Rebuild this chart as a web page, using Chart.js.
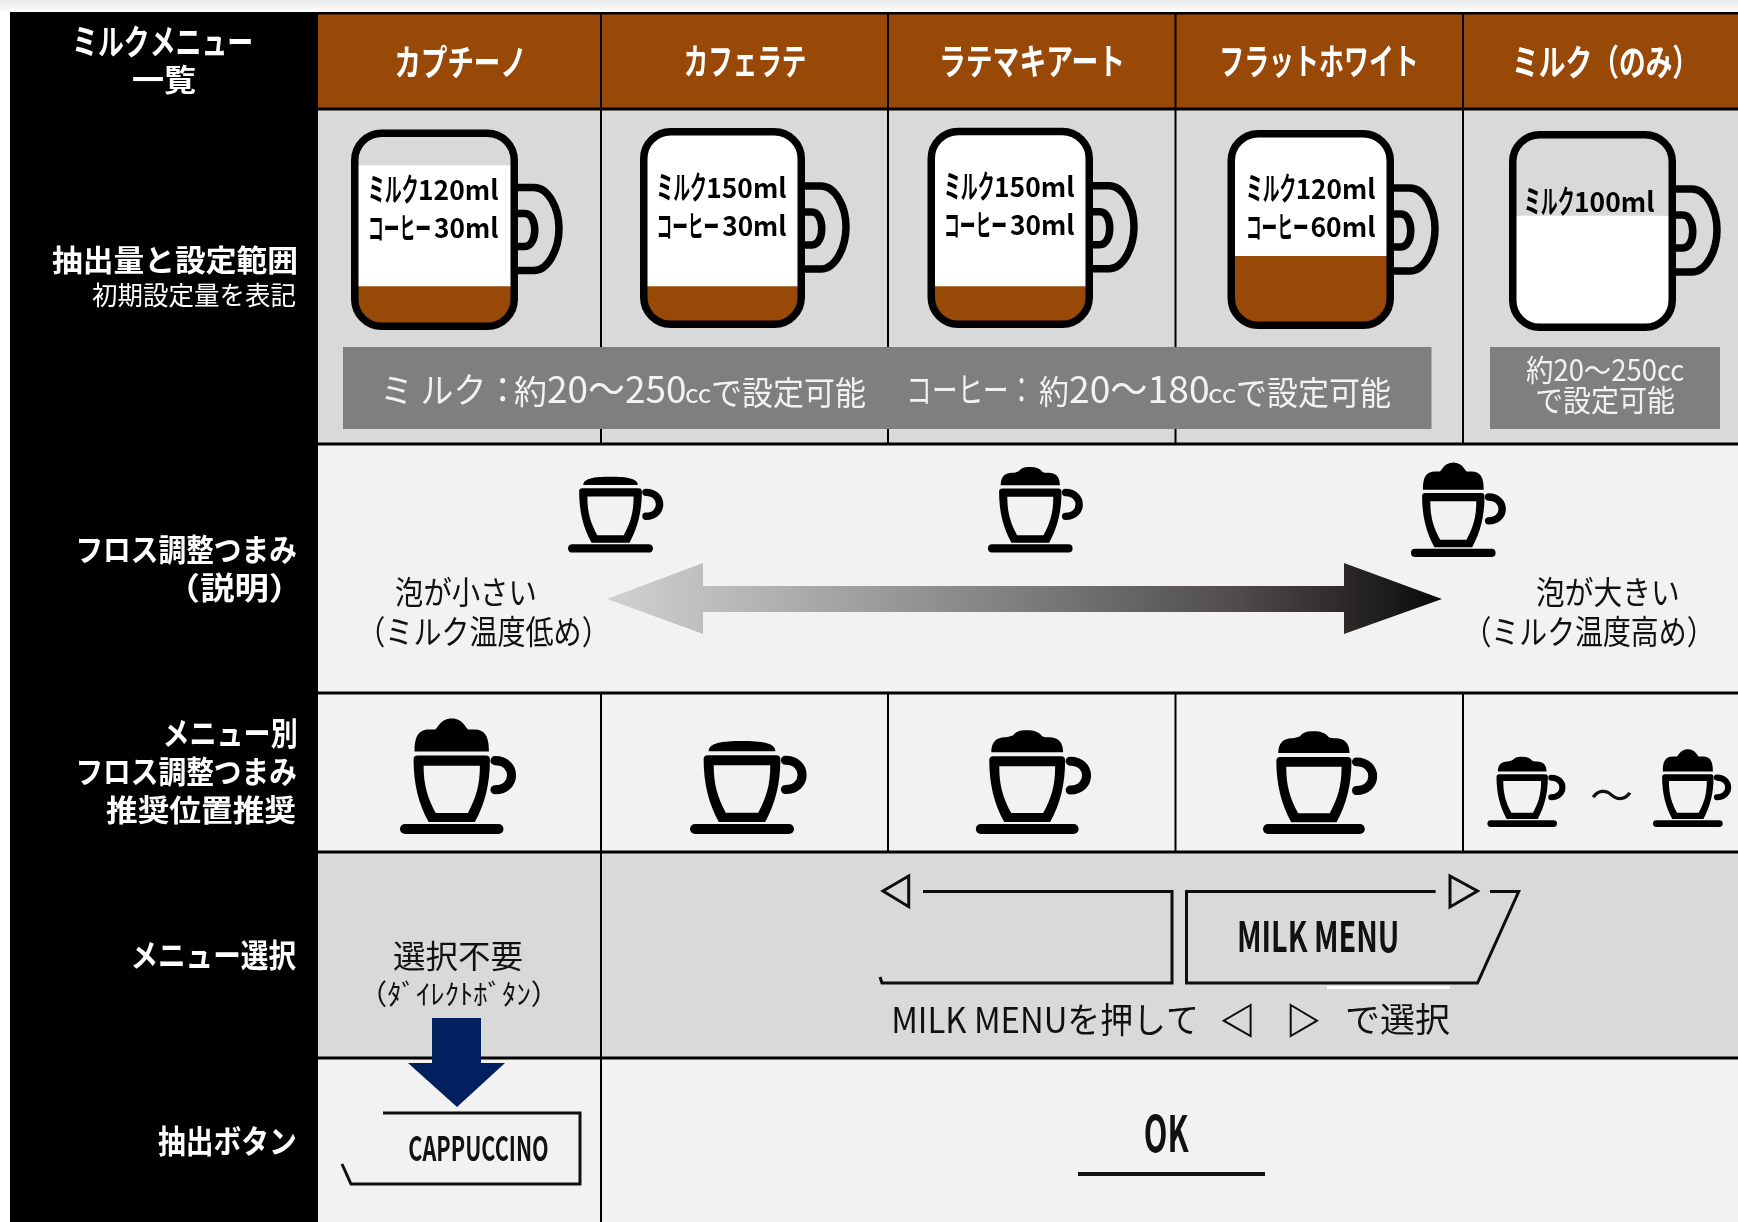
<!DOCTYPE html>
<html lang="ja">
<head>
<meta charset="utf-8">
<title>ミルクメニュー一覧</title>
<script src="https://cdn.jsdelivr.net/npm/chart.js@4"></script>
<style>html,body{margin:0;padding:0;background:#fff}canvas{display:block}</style>
</head>
<body>
<canvas id="c" width="1738" height="1222"></canvas>
<script>
const menuNames = ['カプチーノ','カフェラテ','ラテマキアート','フラットホワイト','ミルク（のみ）'];
const milkMl = [120,150,150,120,100];
const coffeeMl = [30,30,30,60,null];
const milkRange = [20,250];
const coffeeRange = [20,180];
const frothScale = [0,1,2];
const frothByMenu = [2,0,1,1];
const frothMilkOnly = [1,2];

const FONT = '"Noto Sans CJK JP","Noto Sans",sans-serif';
const BROWN = '#984807';

function fit(ctx, text, l, r, y, size, o) {
  o = o || {};
  ctx.save();
  ctx.font = (o.w || 400) + ' ' + size + 'px ' + FONT;
  ctx.fillStyle = o.c || '#000';
  ctx.textAlign = 'left';
  ctx.textBaseline = 'alphabetic';
  const m = ctx.measureText(text);
  const ink = m.actualBoundingBoxLeft + m.actualBoundingBoxRight;
  const sx = (r - l) / ink;
  const base = o.base ? y : y + (m.actualBoundingBoxAscent - m.actualBoundingBoxDescent) / 2;
  ctx.translate(l, base);
  ctx.scale(sx, 1);
  ctx.fillText(text, m.actualBoundingBoxLeft, 0);
  ctx.restore();
}
function poly(ctx, pts, close) {
  ctx.beginPath();
  pts.forEach((p, i) => i ? ctx.lineTo(p[0], p[1]) : ctx.moveTo(p[0], p[1]));
  if (close) ctx.closePath();
}
// mug outer boxes [left, top, right, bottom]
const mugBox = [[351,129.5,518,330],[640,128,805,328],[927.5,127.7,1093,328],[1227.5,130,1394,329],[1509,131,1676,331]];
function mugPath(ctx, b) {
  ctx.roundRect(b[0]+3.75, b[1]+3.75, b[2]-b[0]-7.5, b[3]-b[1]-7.5, 27);
}
function drawMug(ctx, b) {
  const R = b[2], T = b[1];
  ctx.save();
  ctx.strokeStyle = '#000'; ctx.lineWidth = 7.5;
  ctx.beginPath(); mugPath(ctx, b); ctx.stroke();
  ctx.beginPath();
  ctx.moveTo(R-1,T+58); ctx.lineTo(R+16,T+58);
  ctx.bezierCurveTo(R+30,T+58,R+41,T+78,R+41,T+99);
  ctx.bezierCurveTo(R+41,T+120,R+30,T+141,R+16,T+141);
  ctx.lineTo(R-1,T+141);
  ctx.moveTo(R-1,T+84); ctx.lineTo(R+7,T+84);
  ctx.bezierCurveTo(R+20,T+84,R+20,T+117,R+7,T+117);
  ctx.lineTo(R-1,T+117);
  ctx.stroke();
  ctx.restore();
}
function drawCup(ctx, l, r, bottom, level) {
  const cx = (l + r) / 2, s = (r - l) / 103;
  ctx.save();
  ctx.translate(cx, bottom); ctx.scale(s, s);
  ctx.fillStyle = '#000'; ctx.strokeStyle = '#000';
  ctx.beginPath(); ctx.roundRect(-51.5,-10,103,10,5); ctx.fill();
  ctx.beginPath();
  ctx.moveTo(-38,-74); ctx.quadraticCurveTo(-38,-78,-34,-78); ctx.lineTo(34,-78); ctx.quadraticCurveTo(38,-78,38,-74);
  ctx.bezierCurveTo(38,-50,33,-30,23,-12); ctx.lineTo(-23,-12); ctx.bezierCurveTo(-33,-30,-38,-50,-38,-74); ctx.closePath();
  ctx.moveTo(-28,-68); ctx.lineTo(28,-68); ctx.bezierCurveTo(28,-48,24,-36,16,-21); ctx.lineTo(-16,-21); ctx.bezierCurveTo(-24,-36,-28,-48,-28,-68); ctx.closePath();
  ctx.fill('evenodd');
  ctx.lineWidth = 9; ctx.lineCap = 'round';
  ctx.beginPath(); ctx.moveTo(43,-73); ctx.bezierCurveTo(65,-73,65,-44,43,-44); ctx.stroke();
  ctx.beginPath();
  if (level === 0) {
    ctx.moveTo(-33,-82); ctx.bezierCurveTo(-33,-90,-20,-92,0,-92); ctx.bezierCurveTo(20,-92,33,-90,33,-82);
  } else if (level === 1) {
    ctx.moveTo(-36,-82); ctx.bezierCurveTo(-36,-92,-31,-97,-22,-97); ctx.bezierCurveTo(-19,-97,-17,-98,-14,-99);
    ctx.bezierCurveTo(-10,-104,-5,-104,0,-104); ctx.bezierCurveTo(7,-104,12,-102,15,-98);
    ctx.bezierCurveTo(17,-97,19,-97,22,-97); ctx.bezierCurveTo(31,-97,36,-92,36,-82);
  } else {
    ctx.moveTo(-37,-82); ctx.bezierCurveTo(-37,-96,-34,-104,-22,-104); ctx.lineTo(-17,-104);
    ctx.bezierCurveTo(-14,-104,-12,-115,0,-115); ctx.bezierCurveTo(12,-115,14,-104,17,-104);
    ctx.lineTo(22,-104); ctx.bezierCurveTo(34,-104,37,-96,37,-82);
  }
  ctx.closePath(); ctx.fill();
  ctx.restore();
}

const tablePlugin = {
  id: 'tablePlugin',
  beforeDatasetsDraw(chart) {
    const ctx = chart.ctx;
    ctx.save();
    const g = ctx.createLinearGradient(0,0,0,11);
    g.addColorStop(0,'#e9e9e9'); g.addColorStop(1,'#fbfbfb');
    ctx.fillStyle = g; ctx.fillRect(0,0,1738,11);
    ctx.fillStyle = '#000'; ctx.fillRect(10,12,308,1210);
    ctx.fillStyle = BROWN; ctx.fillRect(318,14,1420,95);
    ctx.fillStyle = '#d9d9d9'; ctx.fillRect(318,109,1420,335);
    ctx.fillStyle = '#f2f2f2'; ctx.fillRect(318,444,1420,408);
    ctx.fillStyle = '#d9d9d9'; ctx.fillRect(318,852,1420,206);
    ctx.fillStyle = '#f2f2f2'; ctx.fillRect(318,1058,1420,164);
    ctx.fillStyle = '#000';
    ctx.fillRect(10,12,1728,2.5);
    [109,444,693,852,1058].forEach(y => ctx.fillRect(318,y-1.5,1420,3));
    [601,888,1175.5,1463].forEach(x => { ctx.fillRect(x-1,14,2,430); ctx.fillRect(x-1,693,2,159); });
    ctx.fillRect(600,852,2,370);
    ctx.restore();
  },
  beforeDatasetDraw(chart) {
    const ctx = chart.ctx;
    ctx.save();
    ctx.beginPath();
    mugBox.forEach(b => mugPath(ctx, b));
    ctx.clip();
  },
  afterDatasetDraw(chart) { chart.ctx.restore(); },
  afterDatasetsDraw(chart) {
    const ctx = chart.ctx;
    mugBox.forEach(b => drawMug(ctx, b));
    const W = {c:'#fff', w:700};

    // left column
    fit(ctx,'ミルクメニュー',75,251,41,35,W);
    fit(ctx,'一覧',133,196,79,31,W);
    fit(ctx,'抽出量と設定範囲',52,296,260,30,W);
    fit(ctx,'初期設定量を表記',92,296,295,26,{c:'#fff'});
    fit(ctx,'フロス調整つまみ',79,296,549,31,W);
    fit(ctx,'（説明）',188,281,587,31,W);
    fit(ctx,'メニュー別',165,296,733,32,W);
    fit(ctx,'フロス調整つまみ',79,296,771,31,W);
    fit(ctx,'推奨位置推奨',106,296,810,30,W);
    fit(ctx,'メニュー選択',133,296,955,32,W);
    fit(ctx,'抽出ボタン',158,296,1141,32,W);

    // header
    const hdr = [[396,523],[685,805],[942,1122],[1222,1416],[1515,1682]];
    menuNames.forEach((n,i) => fit(ctx,n,hdr[i][0],hdr[i][1],61,36,W));

    // mug labels
    const lbl = [[370,498,200,238],[658.5,786,198,236],[946,1074,197,235],[1248,1375,199,237],[1526,1654,212,0]];
    const B = {w:700, base:true};
    milkMl.forEach((v,i) => {
      const [l,r,b1,b2] = lbl[i], k = (r-l)/128;
      fit(ctx,'ミルク',l,l+47*k,b1+1,32,B);
      fit(ctx,v+'ml',l+50*k,r,b1,27,B);
      if (coffeeMl[i] !== null) {
        fit(ctx,'コーヒー',l,l+60*k,b2+1,30,B);
        fit(ctx,coffeeMl[i]+'ml',l+64*k,r,b2,27,B);
      }
    });

    // grey range boxes
    ctx.fillStyle = '#7f7f7f';
    ctx.fillRect(343,347,1088.5,82);
    ctx.fillRect(1490,347,230,82);
    const G = {c:'#f2f2f2', base:true};
    fit(ctx,'ミ ルク：',385,506,403,35,G);
    fit(ctx,'約',514,546,404,33,G);
    fit(ctx,milkRange[0]+'～'+milkRange[1],548,685,403,37,G);
    fit(ctx,'cc',686,711,403,26,G);
    fit(ctx,'で設定可能',713,865,405,33,G);
    fit(ctx,'コーヒー：',910,1024,403,35,G);
    fit(ctx,'約',1039,1068,404,33,G);
    fit(ctx,coffeeRange[0]+'～'+coffeeRange[1],1070,1208,403,37,G);
    fit(ctx,'cc',1209,1236,403,26,G);
    fit(ctx,'で設定可能',1238,1390,405,33,G);
    fit(ctx,'約'+milkRange[0]+'～'+milkRange[1]+'cc',1526,1684,381,30,G);
    fit(ctx,'で設定可能',1537,1675,411,30,G);

    // froth explanation
    const sc = [[568,653,552.6],[988,1072.6,552.5],[1411,1495.6,557]];
    frothScale.forEach((lv,i) => drawCup(ctx,sc[i][0],sc[i][1],sc[i][2],lv));
    const grad = ctx.createLinearGradient(607,0,1442,0);
    grad.addColorStop(0,'#d0d2d0'); grad.addColorStop(.25,'#a8a8a8'); grad.addColorStop(.5,'#7d7d7d');
    grad.addColorStop(.75,'#504d4c'); grad.addColorStop(.88,'#2d2a29'); grad.addColorStop(1,'#0a0a0a');
    ctx.fillStyle = grad;
    poly(ctx,[[607,599],[703,563],[703,586],[1344,586],[1344,563],[1442,599],[1344,634],[1344,612],[703,612],[703,634]],true);
    ctx.fill();
    const K = {c:'#111'};
    fit(ctx,'泡が小さい',396,535,592,32,K);
    fit(ctx,'（ミルク温度低め）',376,591,631,33,K);
    fit(ctx,'泡が大きい',1537,1678,592,32,K);
    fit(ctx,'（ミルク温度高め）',1482,1696,631,33,K);

    // froth per menu
    const cups = [[400,503.5],[690,794],[975.8,1078.6],[1263,1364.8]];
    frothByMenu.forEach((lv,i) => drawCup(ctx,cups[i][0],cups[i][1],834,lv));
    drawCup(ctx,1487.4,1557,827,frothMilkOnly[0]);
    drawCup(ctx,1653,1722.7,827,frothMilkOnly[1]);
    fit(ctx,'～',1591,1632,795,40,K);

    // menu selection
    fit(ctx,'選択不要',394,522,956,32,K);
    fit(ctx,'（ﾀﾞｲﾚｸﾄﾎﾞﾀﾝ）',378,540,993,28,K);
    ctx.save();
    ctx.strokeStyle = '#0d0d0d'; ctx.lineWidth = 3; ctx.lineJoin = 'miter';
    poly(ctx,[[908.7,876],[883,891],[908.7,906.7]],true); ctx.stroke();
    poly(ctx,[[1450,876],[1477.5,891],[1450,907]],true); ctx.stroke();
    poly(ctx,[[923,891.5],[1172,891.5],[1172,983],[882,983],[880,977]]); ctx.stroke();
    poly(ctx,[[1435.6,891.5],[1186.5,891.5],[1186.5,983],[1477.5,983],[1518.7,891.5],[1490,891.5]]); ctx.stroke();
    ctx.fillStyle = '#fff'; ctx.fillRect(1327,986,123,3);
    ctx.lineWidth = 2;
    poly(ctx,[[1250.6,1005],[1223.7,1020.7],[1250.6,1036]],true); ctx.stroke();
    poly(ctx,[[1290.7,1005],[1317,1020.7],[1290.7,1036]],true); ctx.stroke();
    ctx.restore();
    fit(ctx,'MILK MENU',1239,1397,937,42,{w:700,c:'#111'});
    fit(ctx,'MILK MENUを押して',894,1195,1019,35,K);
    fit(ctx,'で選択',1347,1450,1019,34,K);

    // brew button
    ctx.save();
    ctx.fillStyle = '#002060';
    poly(ctx,[[432,1018],[481,1018],[481,1063],[505,1063],[457,1107],[408,1063],[432,1063]],true); ctx.fill();
    ctx.strokeStyle = '#111'; ctx.lineWidth = 3;
    poly(ctx,[[383,1113],[580,1113],[580,1184],[351,1184],[342,1164]]); ctx.stroke();
    ctx.fillStyle = '#111'; ctx.fillRect(1078,1172,187,4);
    ctx.restore();
    fit(ctx,'CAPPUCCINO',409,548,1148,34,{w:700,c:'#111'});
    fit(ctx,'OK',1145,1189,1133,50,{w:700,c:'#111'});
  }
};

new Chart(document.getElementById('c'), {
  type: 'bar',
  plugins: [tablePlugin],
  data: {
    labels: menuNames,
    datasets: [
      { label:'コーヒー', data: coffeeMl, backgroundColor: BROWN, base: -30, stack:'s', categoryPercentage:1, barPercentage:1 },
      { label:'ミルク', data: milkMl, backgroundColor: '#ffffff', base: -30, stack:'s', categoryPercentage:1, barPercentage:1 }
    ]
  },
  options: {
    responsive: false,
    animation: false,
    layout: { padding: { left: 318, right: 0, top: 0, bottom: 0 } },
    plugins: { legend: { display:false }, tooltip: { enabled:false }, title: { display:false } },
    scales: {
      x: { display:false, stacked:true },
      y: { display:false, stacked:true, min:-896.04, max:313.86 }
    }
  }
});
</script>
</body>
</html>
